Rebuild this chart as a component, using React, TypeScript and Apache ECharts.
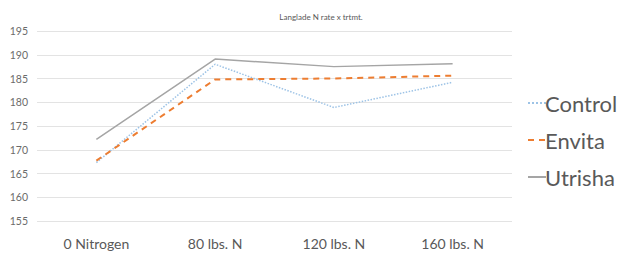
import React, { useEffect, useRef } from "react";
import * as echarts from "echarts";

const categories = ["0 Nitrogen", "80 lbs. N", "120 lbs. N", "160 lbs. N"];
const control = [167.3, 188.0, 178.9, 184.2];
const envita = [167.7, 184.8, 185.0, 185.6];
const utrisha = [172.2, 189.1, 187.5, 188.1];
const yTicks = { min: 155, max: 195, interval: 5 };

export default function App() {
  const ref = useRef<HTMLDivElement>(null);
  useEffect(() => {
    if (!ref.current) return;
    const chart = echarts.init(ref.current, null, { renderer: "svg" });
    const font = "Lato, 'Open Sans', sans-serif";
    chart.setOption({
      animation: false,
      backgroundColor: "#ffffff",
      title: {
        text: "Langlade N rate x trtmt.",
        left: 316,
        top: 8,
        textAlign: "center",
        textStyle: { fontSize: 8, fontWeight: "normal", color: "#595959", fontFamily: font },
      },
      grid: { left: 37, right: 111, top: 31, bottom: 35 },
      xAxis: {
        type: "category",
        data: categories,
        boundaryGap: true,
        axisLine: { show: false },
        axisTick: { show: false },
        axisLabel: { color: "#595959", fontSize: 14, fontFamily: font, margin: 15 },
      },
      yAxis: {
        type: "value",
        min: yTicks.min,
        max: yTicks.max,
        interval: yTicks.interval,
        axisLine: { show: false },
        axisTick: { show: false },
        splitLine: { lineStyle: { color: "#e3e3e3", width: 1 } },
        axisLabel: { color: "#6b6b6b", fontSize: 10.5, fontFamily: font, margin: 9 },
      },
      legend: {
        orient: "vertical",
        left: 522,
        top: 87,
        itemGap: 15,
        itemWidth: 18,
        itemHeight: 10,
        itemStyle: { opacity: 0 },
        textStyle: { fontSize: 22, color: "#595959", fontFamily: font, padding: [0, 0, 0, -6] },
        data: ["Control", "Envita", "Utrisha"],
      },
      series: [
        {
          name: "Control",
          type: "line",
          data: control,
          symbol: "none",
          lineStyle: { color: "#9dc3e6", width: 1.5, type: "dotted" },
          itemStyle: { color: "#9dc3e6" },
        },
        {
          name: "Envita",
          type: "line",
          data: envita,
          symbol: "none",
          lineStyle: { color: "#ed7d31", width: 2, type: [6, 5] },
          itemStyle: { color: "#ed7d31" },
        },
        {
          name: "Utrisha",
          type: "line",
          data: utrisha,
          symbol: "none",
          lineStyle: { color: "#a5a5a5", width: 1.5 },
          itemStyle: { color: "#a5a5a5" },
        },
      ],
    });
    return () => chart.dispose();
  }, []);
  return <div ref={ref} style={{ width: 623, height: 256, position: "absolute", left: 0, top: 0 }} />;
}
